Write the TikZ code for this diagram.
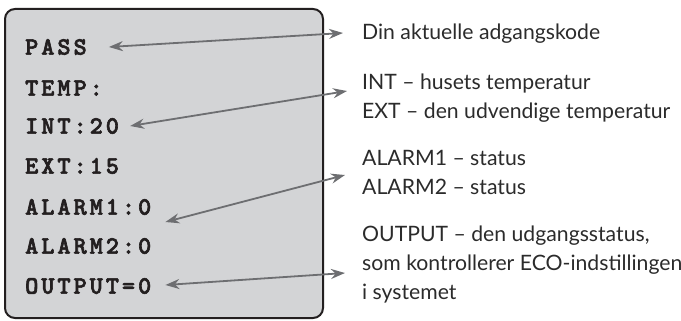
\documentclass[tikz,border=0pt]{standalone}
\usepackage{fontspec}
\usepackage{xcolor}
\usetikzlibrary{arrows.meta}
\setmainfont{Lato}
\newfontfamily\lcdfont[Extension=.otf, UprightFont=*-regular, BoldFont=*-bold,
	BoldFeatures={FakeBold=2.5}, LetterSpace=12]{lmmonolt10}
\definecolor{panelgray}{HTML}{D3D4D6}
\definecolor{framedark}{HTML}{231F20}
\definecolor{arrowgray}{HTML}{6D6E71}
\definecolor{textdark}{HTML}{2B2B2B}
\tikzset{
	lcd/.style={anchor=west, inner sep=0pt, text=framedark,
			font=\lcdfont\bfseries\fontsize{25}{25}\selectfont},
	note/.style={anchor=west, inner sep=0pt, align=left, text=textdark,
			font=\fontsize{21.2}{29}\selectfont},
	link/.style={draw=arrowgray, line width=1.8pt,
			{Stealth[length=14pt,width=10pt]}-{Stealth[length=14pt,width=10pt]}}
}
\begin{document}
\begin{tikzpicture}[x=1pt,y=-1pt]
			\useasboundingbox (0,0) rectangle (681,321);

			% The display panel
			\draw[framedark, fill=panelgray, line width=2pt, rounded corners=10pt] (5,9) rectangle (323,318);

			% Lines on the display
			\node[lcd] (pass) at (25,47) {PASS};
			\node[lcd] (temp) at (25,88) {TEMP:};
			\node[lcd] (int) at (25,126) {INT:20};
			\node[lcd] (ext) at (25,166) {EXT:15};
			\node[lcd] (alarm1) at (25,207) {ALARM1:0};
			\node[lcd] (alarm2) at (25,246) {ALARM2:0};
			\node[lcd] (output) at (25,286) {OUTPUT=0};

			% Explanations
			\node[note] (code) at (362,34) {Din aktuelle adgangskode};
			\node[note] (tempnote) at (362,98) {INT -- husets temperatur\\EXT -- den udvendige temperatur};
			\node[note] (alarmnote) at (362,172) {ALARM1 -- status\\ALARM2 -- status};
			\node[note] (outnote) at (362,265) {OUTPUT -- den udgangsstatus,\\som kontrollerer ECO-indstillingen\\i systemet};

			% Arrows between them
			\draw[link] ([xshift=22pt]pass.east) -- ([xshift=-19pt,yshift=1pt]code.west);
			\draw[link] ([xshift=11pt]int.east) -- ([xshift=-15pt,yshift=7pt]tempnote.west);
			\draw[link] ([xshift=14pt,yshift=-15pt]alarm1.east) -- ([xshift=-17pt,yshift=-3pt]alarmnote.west);
			\draw[link] ([xshift=14pt,yshift=1pt]output.east) -- ([xshift=-17pt,yshift=-8pt]outnote.west);
		\end{tikzpicture}
\end{document}
